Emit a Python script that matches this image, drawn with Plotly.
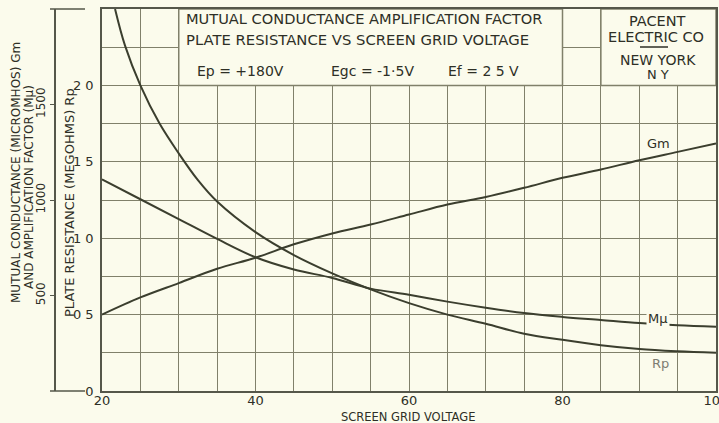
import plotly.graph_objects as go

# ---------------- data ----------------
voltage = [20, 25, 30, 35, 40, 45, 50, 55, 60, 65, 70, 75, 80, 85, 90, 95, 100]
gm = [400, 490, 565, 640, 698, 768, 825, 872, 924, 976, 1016, 1064, 1116, 1160, 1208, 1252, 1296]
mu = [1108, 1004, 900, 796, 700, 636, 592, 536, 504, 468, 436, 408, 388, 372, 356, 344, 336]

rp_voltage = [21.7, 23, 25, 27.5, 30, 32.5, 35, 40, 45, 50, 55, 60, 65, 70, 75, 80, 85, 90, 95, 100]
rp = [2.5, 2.26, 2.0, 1.75, 1.555, 1.38, 1.24, 1.04, 0.89, 0.77, 0.665, 0.575, 0.50, 0.44,
      0.375, 0.335, 0.30, 0.275, 0.26, 0.25]

x_tickvals = [20, 40, 60, 80, 100]
x_ticktext = ["20", "40", "60", "80", "100"]
rp_tickvals = [0, 0.5, 1.0, 1.5, 2.0]
rp_ticktext = ["0", "0 5", "1 0", "1 5", "2 0"]
gm_tickvals = [500, 1000, 1500]
gm_ticktext = ["500", "1000", "1500"]

# ---------------- styling ----------------
BG = "#fbfbec"
GRID = "#80806a"
AXIS = "#55574a"
CURVE = "#3b3e2e"
TEXT = "#2e2f26"
FONT = "DejaVu Sans"

W, H = 719, 423
L, R, T, B = 2, 3, 9, 32
pw, ph = W - L - R, H - T - B


def fx(px):
    return (px - L) / pw


def fy(py):
    return (H - B - py) / ph


fig = go.Figure()

fig.add_trace(go.Scatter(x=rp_voltage, y=rp, mode="lines", name="Rp",
                         line=dict(color=CURVE, width=2, shape="spline", smoothing=1.0),
                         xaxis="x", yaxis="y", showlegend=False))
fig.add_trace(go.Scatter(x=voltage, y=gm, mode="lines", name="Gm",
                         line=dict(color=CURVE, width=2, shape="spline", smoothing=1.0),
                         xaxis="x", yaxis="y2", showlegend=False))
fig.add_trace(go.Scatter(x=voltage, y=mu, mode="lines", name="Mμ",
                         line=dict(color=CURVE, width=2, shape="spline", smoothing=1.0),
                         xaxis="x", yaxis="y2", showlegend=False))

x0dom = fx(102)

fig.update_layout(
    width=W, height=H,
    margin=dict(l=L, r=R, t=T, b=B, pad=0, autoexpand=False),
    paper_bgcolor=BG, plot_bgcolor=BG,
    font=dict(family=FONT, color=TEXT, size=12),
    xaxis=dict(domain=[x0dom, 1], range=[20, 100], tickmode="array",
               tickvals=x_tickvals, ticktext=x_ticktext, automargin=False,
               showgrid=True, gridcolor=GRID, gridwidth=1.3,
               minor=dict(tickmode="linear", tick0=20, dtick=5, showgrid=True,
                          gridcolor=GRID, gridwidth=1.3),
               showline=True, mirror=True, linecolor=AXIS, linewidth=1.6,
               zeroline=False, ticks="", tickfont=dict(size=13, color=TEXT),
               ticklabelstandoff=-3, ticklabeloverflow="allow"),
    yaxis=dict(range=[0, 2.5], tickmode="array", tickvals=rp_tickvals, ticktext=rp_ticktext,
               automargin=False,
               showgrid=True, gridcolor=GRID, gridwidth=1.3,
               minor=dict(tickmode="linear", tick0=0, dtick=0.25, showgrid=True,
                          gridcolor=GRID, gridwidth=1.3),
               showline=True, mirror=True, linecolor=AXIS, linewidth=1.6,
               zeroline=False, ticks="", tickfont=dict(size=13, color=TEXT),
               ticklabelstandoff=4, ticklabeloverflow="allow"),
    yaxis2=dict(overlaying="y", anchor="free", position=fx(55), side="left",
                automargin=False,
                range=[0, 2000], tickmode="array", tickvals=gm_tickvals, ticktext=gm_ticktext,
                tickangle=-90, showgrid=False, zeroline=False,
                showline=True, linecolor=AXIS, linewidth=1.5,
                ticks="outside", ticklen=4, tickcolor=AXIS,
                tickfont=dict(size=12, color=TEXT), ticklabeloverflow="allow"),
)

shapes = [
    # title box and maker box
    dict(type="rect", xref="x", yref="y", x0=30, x1=80, y0=2.0, y1=2.5,
         fillcolor=BG, line=dict(color=GRID, width=1.5), layer="between"),
    dict(type="rect", xref="x", yref="y", x0=85, x1=100, y0=2.0, y1=2.5,
         fillcolor=BG, line=dict(color=GRID, width=1.5), layer="between"),
    # underline in ELECTRIC
    dict(type="line", xref="paper", yref="paper", x0=fx(640), x1=fx(668), y0=fy(47), y1=fy(47),
         line=dict(color=TEXT, width=1.5)),
    # end marks of outer scale
    dict(type="line", xref="paper", yref="paper", x0=fx(50), x1=fx(85), y0=fy(9), y1=fy(9),
         line=dict(color=AXIS, width=1.3)),
    dict(type="line", xref="paper", yref="paper", x0=fx(50), x1=fx(85), y0=fy(391), y1=fy(391),
         line=dict(color=AXIS, width=1.3)),
]
fig.update_layout(shapes=shapes)


def ann(text, px, py, size=12, angle=0, xanchor="center", color=TEXT, bg=None):
    d = dict(text=text, xref="paper", yref="paper", x=fx(px), y=fy(py),
             xanchor=xanchor, yanchor="middle", showarrow=False, textangle=angle,
             font=dict(family=FONT, size=size, color=color))
    if bg:
        d["bgcolor"] = bg
    return d


annotations = [
    ann("MUTUAL CONDUCTANCE (MICROMHOS) Gm", 16, 173, size=12, angle=-90),
    ann("AND AMPLIFICATION FACTOR (Mμ)", 29, 187, size=12, angle=-90),
    ann("PLATE RESISTANCE (MEGOHMS) Rp", 69, 203, size=13, angle=-90),
    ann("SCREEN GRID VOLTAGE", 408, 417, size=11.5),
    ann("MUTUAL CONDUCTANCE AMPLIFICATION FACTOR", 184, 19, size=14.6, xanchor="left"),
    ann("PLATE RESISTANCE VS SCREEN GRID VOLTAGE", 184, 39, size=14.8, xanchor="left"),
    ann("Ep = +180V", 195, 71, size=14, xanchor="left"),
    ann("Egc = -1·5V", 329, 71, size=14, xanchor="left"),
    ann("Ef = 2 5 V", 446, 71, size=14, xanchor="left"),
    ann("PACENT", 657, 21, size=14.5),
    ann("ELECTRIC CO", 656, 37, size=14.5),
    ann("NEW YORK", 658, 60, size=14),
    ann("N Y", 658, 74, size=13),
    ann("Gm", 658, 143, size=13),
    ann("Mμ", 658, 318, size=13, bg=BG),
    ann("Rp", 660, 363, size=13, color="#7d7d72"),
]
fig.update_layout(annotations=annotations)

fig.write_html("out.html", config={"displayModeBar": False},
               post_script="document.body.style.margin='0';document.body.style.overflow='hidden';")
